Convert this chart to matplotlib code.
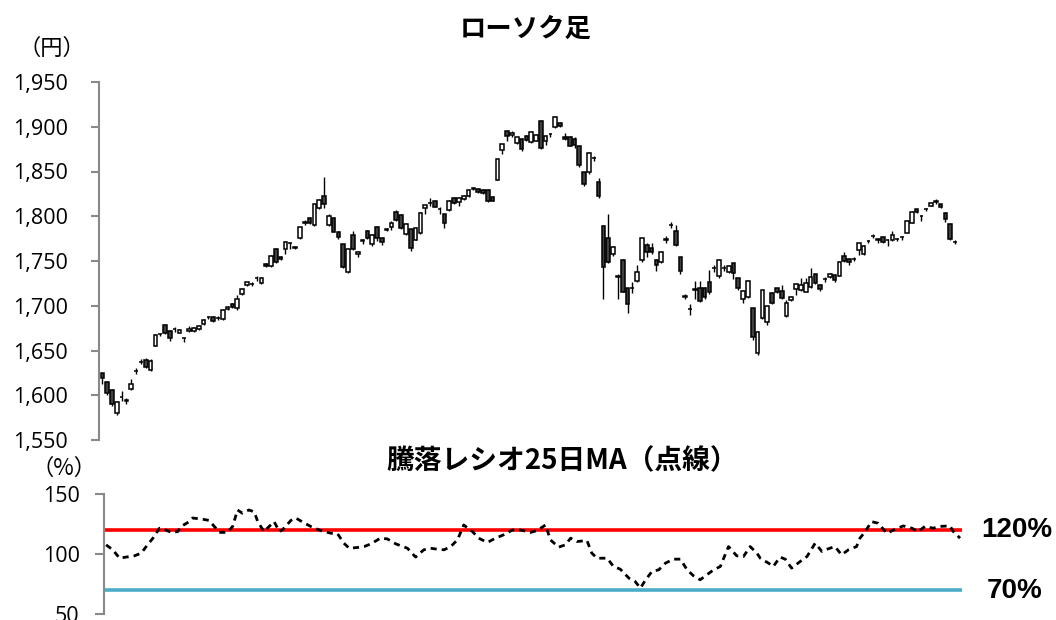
import matplotlib
matplotlib.use("Agg")
import matplotlib.pyplot as plt
import numpy as np

plt.rcParams['font.family'] = ['Noto Sans CJK JP', 'DejaVu Sans']

# ---- candle data (trading day 1..178) ----
opens = [1624.5,1614.5,1606,1580,1598,1594.5,1607,1627,1637.5,1639,1628,1655.4,1668,1678.5,1671.8,1673.7,1670,1664.5,1672,1672,
         1674,1680,1687,1687,1686,1685,1696,1702,1697,1713,1723,1724,1730.5,1725,1747,1744,1763.4,1755,1763.4,1770,
         1764,1775.4,1793.5,1797.6,1790,1808.8,1823,1790,1798.4,1782.8,1768.6,1738,1779,1758,1772.7,1783.5,1768.6,1788.3,1776,1785,
         1787.8,1805,1801.4,1779.8,1785.7,1774,1781,1808.8,1814.4,1817,1807.7,1802.5,1807,1820,1815.5,1818.9,1823,1831,1831,1829,
         1829.3,1822,1841,1874,1895,1891,1882,1886,1889.7,1883.3,1884.5,1906.4,1884.5,1891.5,1900,1904.6,1889,1889,1886,1878.5,
         1849.8,1849.8,1864.7,1838.6,1789,1775.4,1758,1732.5,1751.2,1719.5,1719.5,1727.7,1751.2,1768,1765,1751,1749.3,1774,1790,1784,
         1754.9,1710,1696,1719,1720,1720,1727,1742,1733,1742,1738,1747.4,1730.7,1707.2,1710.2,1697.2,1647,1686,1682.2,1713.9,
         1719.5,1716.5,1689,1706.4,1718.7,1718,1715.7,1720.6,1735.1,1723.2,1729.5,1732,1734.4,1733.6,1755.6,1752.2,1752,1762.3,1757.8,1772.3,
         1778,1774,1776.4,1773.5,1773.5,1774.2,1776.4,1781.7,1792.8,1807.7,1800,1807.7,1812,1816.3,1813.7,1804,1791,1771.6]
closes = [1619,1602,1590,1592,1598.5,1594,1612.6,1627.5,1637,1632,1638.7,1667.4,1668.5,1669.2,1664.4,1674,1673,1664,1674,1675,
          1677,1684,1687.5,1683,1686.5,1695,1699,1699,1708,1718.7,1726,1724.5,1731,1731,1744,1756,1749,1752,1771,1770.5,
          1766,1787.6,1793,1792,1813.3,1818,1813.3,1800.6,1782.8,1777,1743,1763,1763,1760,1773,1776,1779,1775.3,1771.6,1785.5,
          1792,1795.8,1786.5,1791.3,1764,1787,1804,1812.5,1814.8,1810.7,1808,1793,1817.4,1815,1820.7,1822.6,1829.3,1831.5,1826.7,1825.6,
          1817.4,1817.4,1863.6,1880.7,1890,1893,1888,1875,1885,1894.5,1890.8,1876,1889.7,1892,1911.3,1900.8,1886,1878.5,1880,1857.3,
          1836,1871,1865,1823,1743.7,1749.3,1766,1733,1715.8,1702,1720,1737.4,1775.4,1760.5,1760.5,1745,1760.5,1774.5,1790.5,1768,
          1739.2,1710.5,1696.5,1718,1705,1710,1715,1742.5,1751,1742.5,1744,1736.3,1719.5,1716.9,1727.7,1664.8,1671,1717.6,1699.7,1703,
          1715.7,1708.3,1703.4,1710.1,1724.3,1723,1725,1732.5,1725,1718.3,1730,1735,1728.8,1749.3,1750,1749.3,1752.5,1769.7,1767,1772.6,
          1777.5,1774.4,1771.6,1773.8,1779,1774.5,1776.7,1795,1805.1,1805,1800.3,1808,1815,1816.6,1810,1797,1774.6,1771.3]
highs = [1625,1616,1607,1594,1605,1597,1618,1630,1640,1642,1640,1668,1670,1680,1673,1676,1674,1665,1677,1676,
         1678,1685,1689,1688,1688,1696,1700,1703,1712,1720,1727,1726,1733,1732,1748,1757,1764,1756,1772,1771,
         1767,1788,1796,1799,1814,1819,1843.5,1803,1799,1784,1769,1764,1783,1761,1775,1785,1780,1789,1777,1787,
         1795,1807,1802,1793,1786,1788,1805,1813,1820,1818,1810,1803,1818,1821,1822,1824,1830,1833,1832,1830,
         1830,1823,1864,1881,1896,1895,1889,1887,1891,1895,1892,1907,1891,1893,1912,1905,1893,1890,1888,1879,
         1850,1872,1867,1843,1790,1803,1767,1735,1752,1720,1726,1745,1776,1770,1770,1752,1761,1778,1794,1790,
         1755,1713,1702,1728,1728,1721,1740,1745,1752,1745,1745,1748,1731,1718,1729,1698,1672,1718,1700,1715,
         1720,1723,1706,1711,1725,1731,1731,1742,1736,1724,1732,1737,1735,1750,1760,1753,1755,1770,1768,1774,
         1780,1776,1777,1775,1783,1776,1778,1796,1806,1808,1801,1809,1816,1819,1814,1805,1792,1774]
lows = [1613,1600,1588,1578,1594,1590,1606,1624,1635,1631,1627,1655,1666,1668,1661,1671,1669,1659,1671,1671,
        1673,1679,1685,1682,1684,1684,1695,1698,1695,1712,1722,1722,1728,1724,1743,1743,1748,1751,1758,1763,
        1763,1775,1790,1791,1789,1808,1809,1789,1782,1775,1742,1737,1762,1755,1769,1775,1767,1772,1768,1783,
        1785,1795,1786,1779,1761,1773,1780,1803,1812,1810,1803,1787,1806,1814,1812,1818,1822,1829,1826,1825,
        1816,1817,1840,1870,1884,1889,1881,1873,1884,1882,1884,1875,1880,1889,1899,1900,1885,1878,1876,1855,
        1834,1847,1862,1820,1707,1748,1756,1708,1715,1691.6,1714,1726,1749,1755,1758,1739,1748,1770,1787,1767,
        1736,1707,1690,1707,1704,1708,1713,1738,1731,1739,1737,1730,1718,1703,1709,1662,1645,1685,1678,1702,
        1714,1707,1687,1705,1712,1717,1715,1720,1724,1717,1727,1731,1726,1733,1749,1746,1750,1757,1757,1770,
        1776,1770,1770,1767,1772,1772,1774,1781,1792,1804,1795,1806,1811,1814,1809,1794,1773,1769]

# ---- advance/decline ratio, 25-day MA (read vertices: trading day, %) ----
ratio_day = [1.7,3.1,4.5,5.8,7.6,9,10.3,11.4,12.8,14.1,15.2,16.6,17.3,19,19.7,21.7,23.1,24.5,25.2,26.9,
             28,29,30,31.4,32.5,33.2,34.5,36.6,37.7,38.3,40.1,41.1,42.8,44.2,46.3,48.4,49.8,51.1,52.2,53.9,
             55.3,56.7,58.7,60.1,61.9,64.3,66,67.7,69.1,70.5,71.9,73.3,74.7,76,77.8,79.1,80.9,82.6,84.3,86.1,
             87.8,89.9,91.2,93,94,95.7,97.1,98.2,99.5,101.6,102.6,103.7,105.8,107.1,108.5,110.3,111.6,112.7,113.7,115.1,
             116.5,117.9,119.6,121,122.4,123.7,125.1,126.5,127.9,129.3,130,131,132.7,134.1,135.5,136.9,137.6,139.3,140.3,141.7,
             142.8,144.1,145.9,147.3,149,150.4,151.1,153.1,154.5,155.9,157.6,158.3,159.4,160.7,162.1,163.9,165.6,167.3,169.1,170.4,
             171.8,173.5,174.9,177,177.7,179.1]
ratio_val = [107.6,103.5,96.5,97.4,98.5,100.7,107.6,113,121.5,120,118,118.7,123,127,130,129,128,121.5,118,118,
             123,136.7,134,136.7,135,127,118.7,127,118.7,120,128,130,126,123,119.5,117.3,116.8,109,104.8,105.4,
             106.2,108.4,113.2,112.6,108.4,104.8,97.4,103.5,104.8,104,103.5,106.2,111.8,124.2,118.7,113.2,109.6,113.2,116,120,
             120,118,119.5,124.2,111.8,105.7,107.6,113.2,110.4,111.2,100.7,96.5,96.5,89.6,87.4,79.9,77.1,71.6,78,85.5,
             86.8,92.4,95.7,95.7,86.8,81.9,78.5,82.7,86.8,89.6,96.5,106.2,98.5,97.9,106.2,100.7,96.5,92.4,89.6,97.4,
             95.7,88.2,93.8,97.9,109,102.1,103.5,106.2,99.3,103.5,106.2,113.2,118.7,127,125.6,117.3,120.6,123.4,121.5,118.7,
             123,121.5,123,123.4,118.7,113.2]

upper_level = 120
lower_level = 70

W, H = 1056, 620
fig = plt.figure(figsize=(W/100, H/100), dpi=100)

def px_axes(l, t, r, b):
    return fig.add_axes([l/W, 1-b/H, (r-l)/W, (b-t)/H])

gray = '#898989'
tick_font = dict(family=['Open Sans', 'DejaVu Sans'], size=15.5)

# ---------- candle chart ----------
ax = px_axes(99, 82, 958, 440)
days = np.arange(1, len(opens)+1)
o = np.array(opens); c = np.array(closes); hi = np.array(highs); lo = np.array(lows)
up = c >= o
ax.vlines(days, lo, hi, color='black', lw=1.0, zorder=1)
body_bot = np.minimum(o, c)
body_h = np.maximum(np.abs(c-o), 0.3)
ax.bar(days[up], body_h[up], bottom=body_bot[up], width=0.76, color='white', edgecolor='black', lw=1.1, zorder=2)
ax.bar(days[~up], body_h[~up], bottom=body_bot[~up], width=0.76, color='#404040', edgecolor='black', lw=1.1, zorder=2)
ax.set_xlim(0.3, 178.6)
ax.set_ylim(1550, 1950)
ax.set_yticks(np.arange(1550, 1951, 50))
ax.set_yticklabels([f"{v:,}" for v in range(1550, 1951, 50)], **tick_font)
ax.set_xticks([])
for s in ['top', 'right', 'bottom']:
    ax.spines[s].set_visible(False)
ax.spines['left'].set_color(gray)
ax.spines['left'].set_linewidth(1.5)
ax.tick_params(axis='y', direction='out', length=5.5, width=1.5, color=gray, pad=17)

# ---------- ratio chart ----------
ax2 = px_axes(104, 494, 962, 614)
ax2.plot(ratio_day, ratio_val, color='black', lw=2.0, linestyle=(0, (2.2, 1.8)), zorder=3)
ax2.axhline(upper_level, color='#FF0000', lw=2.6, zorder=2)
ax2.axhline(lower_level, color='#4BACC6', lw=2.6, zorder=2)
ax2.set_xlim(1.27, 179.5)
ax2.set_ylim(50, 150)
ax2.set_yticks([50, 100, 150])
ax2.set_yticklabels(['50', '100', '150'], **tick_font)
ax2.set_xticks([])
for s in ['top', 'right', 'bottom']:
    ax2.spines[s].set_visible(False)
ax2.spines['left'].set_color(gray)
ax2.spines['left'].set_linewidth(1.5)
ax2.tick_params(axis='y', direction='out', length=6.5, width=1.5, color=gray, pad=11)

# ---------- texts ----------
fig.text(526/W, 1-29/H, 'ローソク足', ha='center', va='center', fontsize=19, fontweight='bold')
fig.text(562/W, 1-461/H, '騰落レシオ25日MA（点線）', ha='center', va='center', fontsize=20, fontweight='bold')
fig.text(52/W, 1-48/H, '（円）', ha='center', va='center', fontsize=16)
fig.text(64/W, 1-468/H, '（%）', ha='center', va='center', fontsize=16)
fig.text(1017/W, 1-530/H, '120%', ha='center', va='center', fontsize=20, fontweight='bold', family='Liberation Sans')
fig.text(1014.5/W, 1-591/H, '70%', ha='center', va='center', fontsize=20, fontweight='bold', family='Liberation Sans')

fig.savefig('out.png', dpi=100)
